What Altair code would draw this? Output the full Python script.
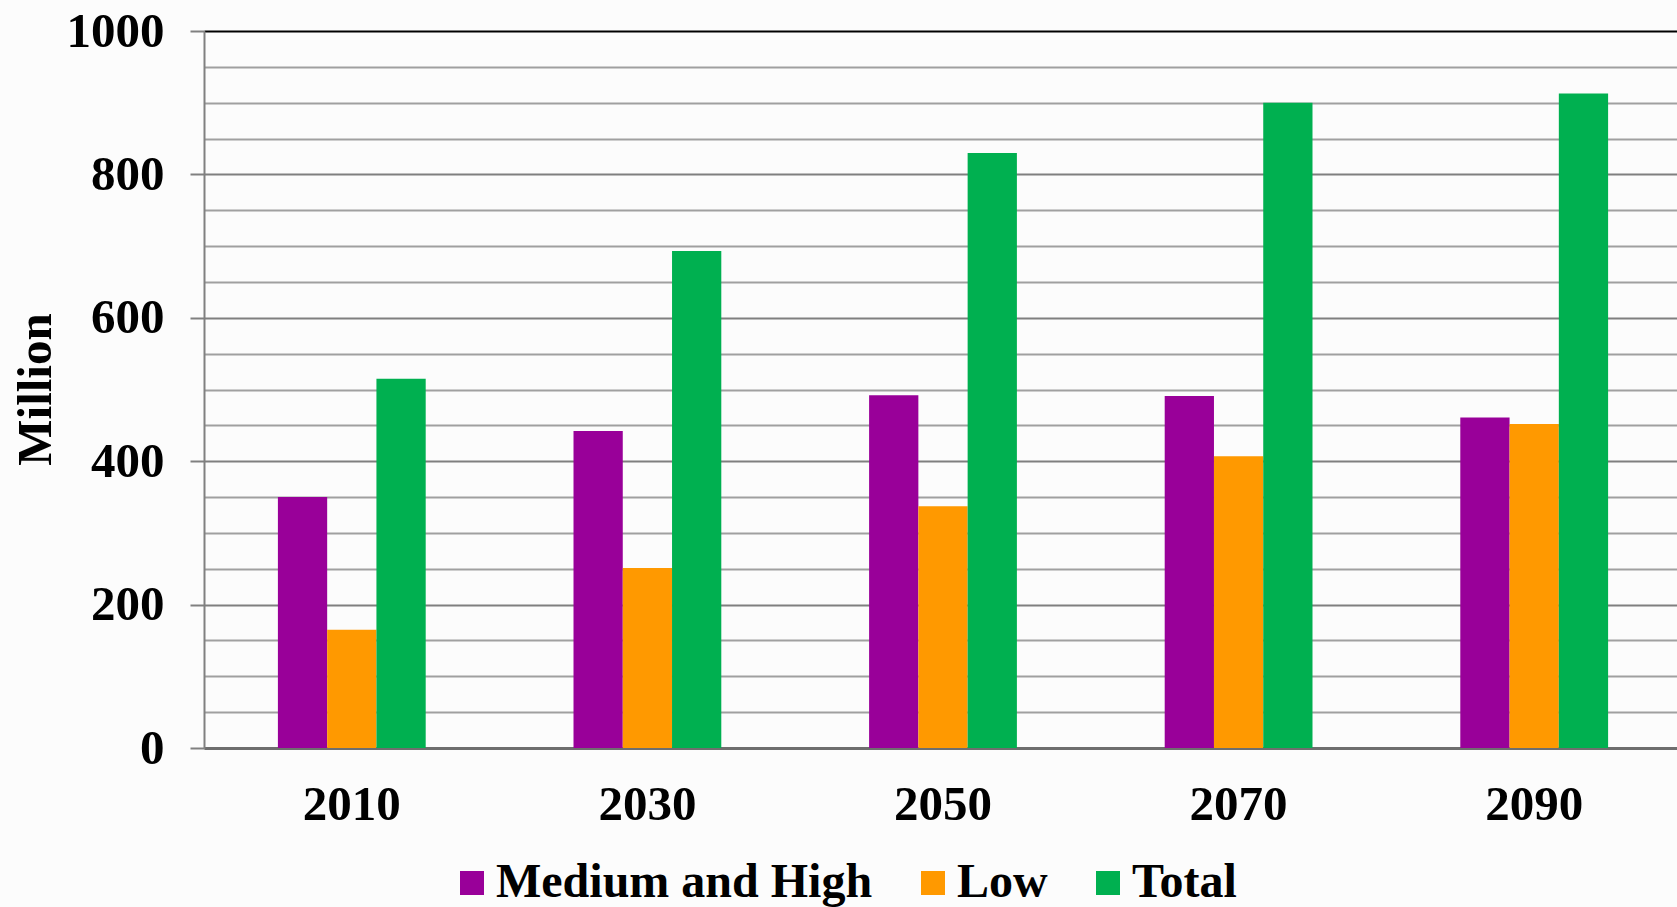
import altair as alt
import pandas as pd

years = ["2010", "2030", "2050", "2070", "2090"]
series = ["Medium and High", "Low", "Total"]
medium_high = [350, 442, 492, 491, 461]
low = [165, 251, 337, 407, 452]
total = [515, 693, 830, 900, 913]
colors = ["#990099", "#FF9900", "#00B050"]
y_ticks = list(range(0, 1001, 50))

rows = []
for i, y in enumerate(years):
    for s, vals in zip(series, [medium_high, low, total]):
        rows.append({"year": y, "series": s, "value": vals[i]})
df = pd.DataFrame(rows)

FONT = "Liberation Serif"

chart = alt.Chart(df).mark_bar().encode(
    x=alt.X("year:N", sort=years,
            scale=alt.Scale(paddingInner=0.5, paddingOuter=0.25, range=[0, 1478]),
            axis=alt.Axis(title=None, labelAngle=0, ticks=False, labelPadding=32,
                          labelFont=FONT, labelFontSize=49, labelFontWeight="bold",
                          labelColor="black", domainColor="#6e6e6e", domainWidth=3,
                          grid=False)),
    xOffset=alt.XOffset("series:N", sort=series, scale=alt.Scale(paddingInner=0, paddingOuter=0)),
    y=alt.Y("value:Q", scale=alt.Scale(domain=[0, 1000], nice=False, zero=True),
            axis=alt.Axis(title="Million", values=y_ticks, format="d",
                          labelExpr="datum.value % 200 === 0 ? datum.label : ''",
                          labelFont=FONT, labelFontSize=49, labelFontWeight="bold",
                          labelColor="black", labelPadding=26,
                          tickSize=14, tickWidth=2, tickColor="#808080",
                          tickOpacity={"condition": {"test": "datum.value % 200 === 0", "value": 1}, "value": 0},
                          domainColor="#808080", domainWidth=2,
                          grid=True, gridWidth=2,
                          gridColor={"condition": [
                              {"test": "datum.value === 1000", "value": "#000000"},
                              {"test": "datum.value % 200 === 0", "value": "#7f7f7f"}],
                              "value": "#a0a0a0"},
                          titleFont=FONT, titleFontSize=49, titleFontWeight="bold",
                          titleColor="black", titleAngle=-90, titleAlign="center",
                          titleBaseline="middle", titleX=-169, titleY=358)),
    color=alt.Color("series:N", sort=series,
                    scale=alt.Scale(domain=series, range=colors),
                    legend=alt.Legend(title=None, orient="none", legendX=244, legendY=828,
                                      direction="horizontal", symbolType="square",
                                      symbolSize=576, symbolStrokeWidth=0,
                                      labelFont=FONT, labelFontSize=48, labelFontWeight="bold",
                                      labelColor="black", labelOffset=0, columnPadding=36,
                                      padding=0, labelLimit=0)),
).properties(
    width=1473, height=717,
    background="#fcfcfc",
    padding={"left": 204, "top": 31, "right": 0, "bottom": 159},
    autosize=alt.AutoSizeParams(type="none"),
).configure_view(stroke=None)

chart.save("out.html", embed_options={"renderer": "svg", "actions": False})
